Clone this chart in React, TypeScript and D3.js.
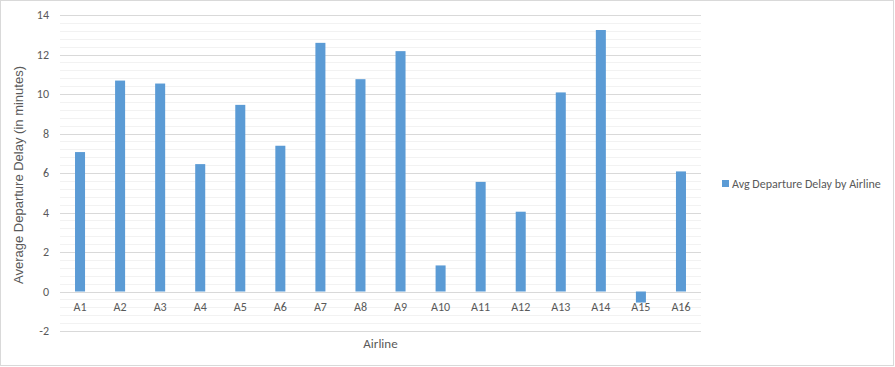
import React from "react";
import * as d3 from "d3";

const categories = ["A1","A2","A3","A4","A5","A6","A7","A8","A9","A10","A11","A12","A13","A14","A15","A16"];
const delays = [7.06,10.68,10.53,6.45,9.45,7.38,12.59,10.75,12.17,1.32,5.55,4.04,10.08,13.24,-0.56,6.08];
const yTicks = [-2,0,2,4,6,8,10,12,14];
const seriesName = "Avg Departure Delay by Airline";
const xTitle = "Airline";
const yTitle = "Average Departure Delay (in minutes)";

const W = 895, H = 367;
const FONT = "Carlito, Calibri, Lato, 'Open Sans', sans-serif";

export default function App() {
  const left = 60, right = 701, top = 15, bottom = 331;
  const x = d3.scaleBand<string>().domain(categories).range([left, right]).paddingInner(0).paddingOuter(0);
  const y = d3.scaleLinear().domain([-2, 14]).range([bottom, top]);
  const minor = d3.range(-2, 14.0001, 0.4).filter(v => Math.abs(v / 2 - Math.round(v / 2)) > 1e-6);
  const barW = x.bandwidth() * 0.25;
  return (
    <svg width={W} height={H} style={{ position: "absolute", left: 0, top: 0, fontFamily: FONT }}>
      <rect x={0.5} y={0.5} width={W - 2} height={H - 2} fill="#fff" stroke="#d9d9d9" />
      {minor.map(v => (
        <line key={"m" + v} x1={left} x2={right} y1={Math.round(y(v)) + 0.5} y2={Math.round(y(v)) + 0.5} stroke="#f2f2f2" />
      ))}
      {yTicks.map(v => (
        <line key={"g" + v} x1={left} x2={right} y1={Math.round(y(v)) + 0.5} y2={Math.round(y(v)) + 0.5} stroke="#d9d9d9" />
      ))}
      {yTicks.map(v => (
        <text key={"t" + v} x={49} y={y(v)} dy="0.35em" textAnchor="end" fontSize={12} fill="#595959">{v}</text>
      ))}
      {categories.map((c, i) => {
        const v = delays[i];
        const y0 = y(0), y1 = y(v);
        return (
          <rect key={c} x={(x(c) as number) + x.bandwidth() / 2 - barW / 2} y={Math.min(y0, y1)} width={barW} height={Math.abs(y1 - y0)} fill="#5b9bd5" />
        );
      })}
      {categories.map(c => (
        <text key={"x" + c} x={(x(c) as number) + x.bandwidth() / 2} y={307} dy="0.35em" textAnchor="middle" fontSize={12} fill="#595959">{c}</text>
      ))}
      <text x={(left + right) / 2} y={343} dy="0.35em" textAnchor="middle" fontSize={13} fill="#595959">{xTitle}</text>
      <text transform={`translate(18.5,175) rotate(-90)`} dy="0.35em" textAnchor="middle" fontSize={13} fontFamily="'Liberation Sans', Arial, sans-serif" fill="#595959">{yTitle}</text>
      <rect x={722} y={180} width={7} height={7} fill="#5b9bd5" />
      <text x={732} y={183.5} dy="0.35em" fontSize={12} fill="#595959">{seriesName}</text>
    </svg>
  );
}
